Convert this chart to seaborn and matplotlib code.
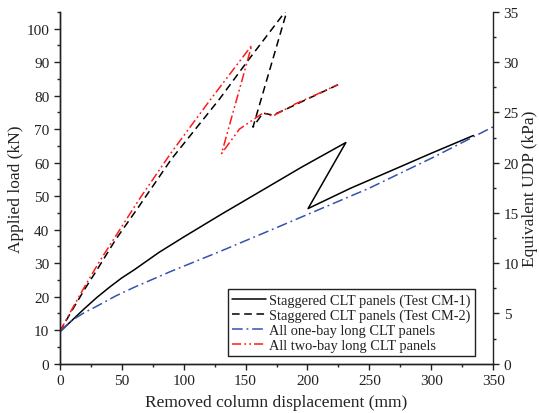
import matplotlib
matplotlib.use("Agg")
import matplotlib.pyplot as plt
import seaborn as sns
import pandas as pd
from matplotlib.ticker import MultipleLocator

# ---- data ----
cm1_x = [0, 10, 20, 30, 40, 50, 60, 80, 100, 130, 160, 195, 231, 200.5, 235, 267, 300, 334]
cm1_y = [9.5, 13.0, 16.5, 19.8, 22.8, 25.6, 28.0, 33.2, 37.8, 44.5, 51.0, 58.6, 66.0, 46.3, 52.4, 57.5, 62.8, 68.1]

cm2_x = [0, 10, 20, 30, 45, 64, 90, 129, 151, 184, 156, 164, 172, 183, 200, 225]
cm2_y = [9.6, 16.0, 22.2, 28.0, 37.0, 47.0, 61.0, 79.0, 90.0, 106.0, 70.6, 74.8, 74.2, 76.0, 79.0, 83.3]

one_x = [0, 10, 20, 28, 45, 60, 90, 130, 175, 250, 300, 350]
one_y = [9.6, 13.0, 15.3, 16.8, 20.2, 22.8, 27.6, 33.6, 40.6, 52.4, 61.3, 70.7]

two_x = [0, 10, 20, 32, 64, 90, 122, 155, 130.6, 145, 164, 172, 190, 210, 224.6]
two_y = [9.6, 16.4, 23.0, 30.5, 49.0, 63.0, 79.0, 95.0, 62.7, 70.0, 74.8, 73.9, 77.5, 80.8, 83.3]

labels = ["Staggered CLT panels (Test CM-1)",
          "Staggered CLT panels (Test CM-2)",
          "All one-bay long CLT panels",
          "All two-bay long CLT panels"]

x_ticks = [0, 50, 100, 150, 200, 250, 300, 350]
y_ticks = [0, 10, 20, 30, 40, 50, 60, 70, 80, 90, 100]
y2_ticks = [0, 5, 10, 15, 20, 25, 30, 35]

# ---- style ----
sns.set_style("ticks")
plt.rcParams["font.family"] = ["Liberation Serif", "DejaVu Serif"]
txt = "#222222"

fig = plt.figure(figsize=(5.39, 4.14), dpi=100)
ax = fig.add_axes([0.111, 0.119, 0.804, 0.850])

series = [
    (cm1_x, cm1_y, labels[0], "black", "-"),
    (cm2_x, cm2_y, labels[1], "black", (0, (5, 3))),
    (one_x, one_y, labels[2], "#3352b0", (0, (7, 2.5, 1.2, 2.5))),
    (two_x, two_y, labels[3], "#ff1a1a", (0, (6, 2, 1.2, 2, 1.2, 2))),
]
for xs, ys, lab, col, ls in series:
    df = pd.DataFrame({"x": xs, "y": ys})
    sns.lineplot(data=df, x="x", y="y", sort=False, estimator=None, ax=ax,
                 color=col, linewidth=1.1, label=lab)
    ax.lines[-1].set_linestyle(ls)

ax.set_xlim(0, 350)
ax.set_ylim(0, 105)
ax.set_xticks(x_ticks)
ax.set_yticks(y_ticks)
ax.xaxis.set_minor_locator(MultipleLocator(25))
ax.yaxis.set_minor_locator(MultipleLocator(5))
ax.set_xlabel("Removed column displacement (mm)", fontsize=12.5, color=txt, labelpad=5)
ax.set_ylabel("Applied load (kN)", fontsize=12.5, color=txt, labelpad=1.5)
ax.spines["top"].set_visible(False)
ax.spines["right"].set_visible(False)

ax2 = ax.twinx()
ax2.set_ylim(0, 35)
ax2.set_yticks(y2_ticks)
ax2.yaxis.set_minor_locator(MultipleLocator(2.5))
ax2.set_ylabel("Equivalent UDP (kPa)", fontsize=12.5, color=txt, labelpad=2.5)
ax2.spines["top"].set_visible(False)

for a in (ax, ax2):
    for s in a.spines.values():
        s.set_linewidth(1.0)
        s.set_color("#222222")
    a.tick_params(which="major", direction="out", length=4, width=1.0,
                  labelsize=11, colors="#222222", labelcolor=txt)
    a.tick_params(which="minor", direction="out", length=2.5, width=1.0, colors="#222222")

leg = ax.legend(loc="lower right", bbox_to_anchor=(0.958, 0.022), borderaxespad=0,
                fontsize=10.4, frameon=True, fancybox=False, framealpha=1,
                edgecolor="#222222", handlelength=2.3, labelspacing=0.12,
                handletextpad=0.25, borderpad=0.3)
leg.get_frame().set_linewidth(1.0)
for t in leg.get_texts():
    t.set_color(txt)

fig.savefig("out.png", dpi=100)
